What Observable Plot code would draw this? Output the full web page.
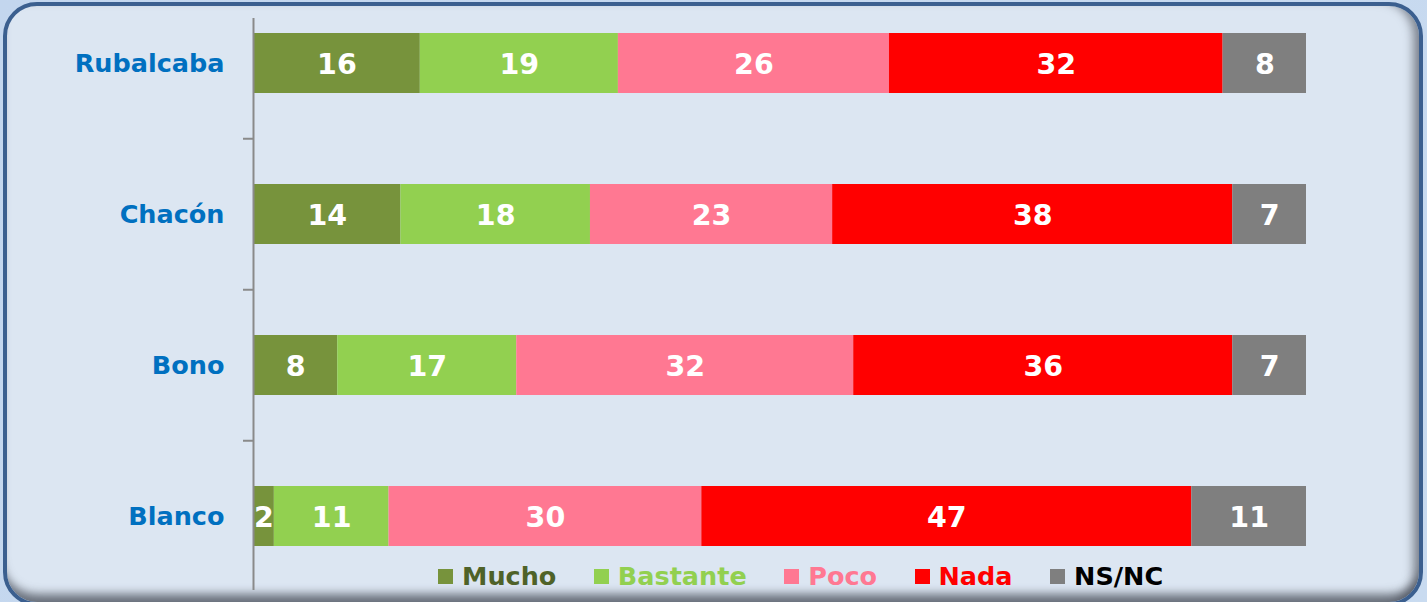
<!DOCTYPE html>
<html>
<head>
<meta charset="utf-8">
<script src="https://cdn.jsdelivr.net/npm/d3@7"></script>
<script src="https://cdn.jsdelivr.net/npm/@observablehq/plot@0.6"></script>
<style>
  html, body { margin: 0; padding: 0; }
  body { width: 1427px; height: 602px; overflow: hidden; position: relative;
         background: linear-gradient(135deg, #c3d6ee, #c9dbf0); font-family: "DejaVu Sans", Verdana, sans-serif; }
  #frame { position: absolute; left: 3px; top: 2px; width: 1420px; height: 604px; box-sizing: border-box;
           border: 4px solid #3b5f8f; border-radius: 34px; background: #dce6f2;
           box-shadow: inset 0 -14px 10px -6px rgba(70,75,85,0.75), inset -12px 0 10px -6px rgba(70,75,85,0.6); }
  #chart { position: absolute; left: 0; top: 0; }
  #legend { position: absolute; left: 438px; top: 561px; display: flex; align-items: center;
            font-family: "DejaVu Sans", Verdana, sans-serif; font-weight: bold; font-size: 25.5px; line-height: 30px; }
  .item { display: flex; align-items: center; margin-right: 37.5px; }
  .sw { width: 15px; height: 15px; margin-right: 9px; }
</style>
</head>
<body>
<div id="frame"></div>
<div id="chart"></div>
<div id="legend"></div>
<script>
const candidates = ["Rubalcaba", "Chacón", "Bono", "Blanco"];
const categories = ["Mucho", "Bastante", "Poco", "Nada", "NS/NC"];
const mucho    = [16, 14, 8, 2];
const bastante = [19, 18, 17, 11];
const poco     = [26, 23, 32, 30];
const nada     = [32, 38, 36, 47];
const nsnc     = [8, 7, 7, 11];
const barColors = ["#77933c", "#92d050", "#ff7892", "#ff0000", "#7f7f7f"];
const legendTextColors = ["#4f6228", "#92d050", "#ff7892", "#ff0000", "#000000"];

const series = [mucho, bastante, poco, nada, nsnc];
const rows = [];
candidates.forEach((c, i) => {
  categories.forEach((cat, j) => rows.push({candidate: c, category: cat, value: series[j][i]}));
});

const stackOpts = {x: "value", y: "candidate", offset: "normalize"};

const plot = Plot.plot({
  width: 1427,
  height: 602,
  marginLeft: 253,
  marginRight: 121,
  marginTop: 18,
  marginBottom: 12,
  style: {background: "transparent", fontFamily: "DejaVu Sans, Verdana, sans-serif"},
  x: {domain: [0, 1], axis: null},
  y: {domain: candidates, range: [-13.25, 592.75], paddingInner: 0.604, paddingOuter: 0.302, axis: null},
  color: {domain: categories, range: barColors},
  marks: [
    Plot.barX(rows, Plot.stackX({...stackOpts, fill: "category"})),
    Plot.text(rows, Plot.stackX({...stackOpts, text: d => String(d.value), fill: "white",
      fontSize: 28.5, fontWeight: "bold", dy: 1, letterSpacing: 1})),
    Plot.ruleX([0], {stroke: "#8a8a8a", strokeWidth: 2}),
    Plot.axisY(candidates.slice(1), {tickSize: 10, text: null, dy: -75.75, stroke: "#8a8a8a", strokeWidth: 2, label: null}),
    Plot.axisY({tickSize: 0, tickPadding: 29, fontSize: 25.5, fontWeight: "bold", fill: "#0070c0", label: null})
  ]
});
document.getElementById("chart").appendChild(plot);

const legend = d3.select("#legend");
categories.forEach((cat, j) => {
  const item = legend.append("div").attr("class", "item");
  item.append("div").attr("class", "sw").style("background", barColors[j]);
  item.append("span").style("color", legendTextColors[j]).text(cat);
});
</script>
</body>
</html>
